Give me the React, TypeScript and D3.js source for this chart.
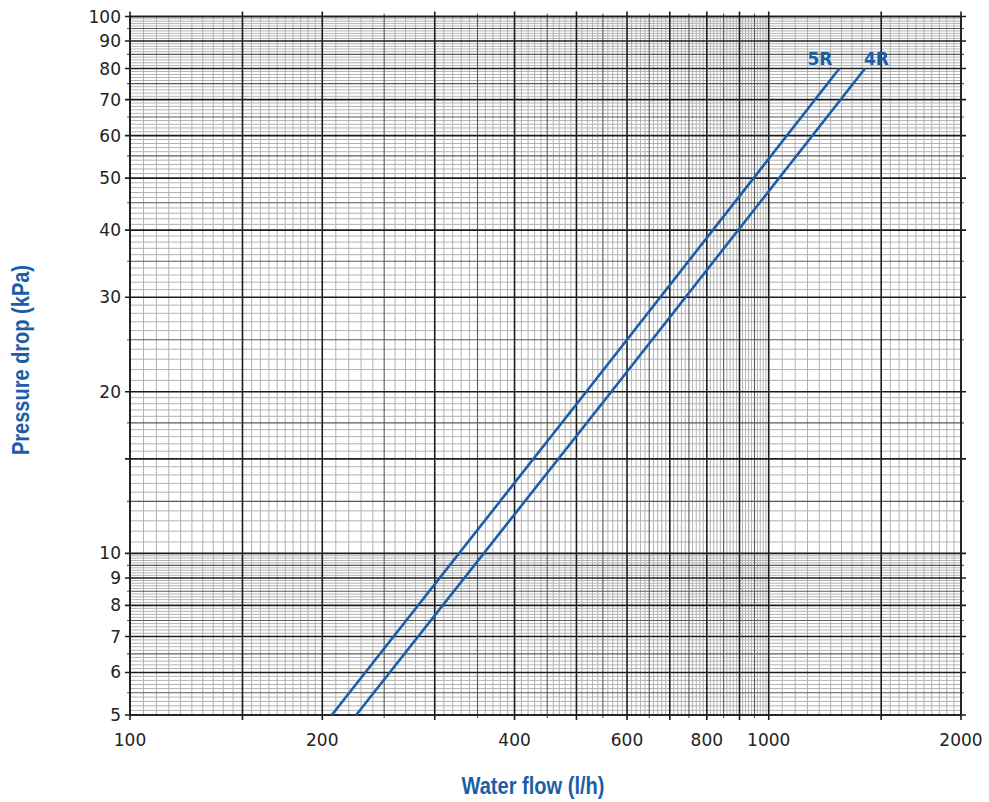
import { useMemo } from "react";
import * as d3 from "d3";

// Pressure drop vs water flow, log-log paper, two coil rows
const series5R = [
    { flow: 207, drop: 5 },
    { flow: 518, drop: 20 },
    { flow: 1290, drop: 80 },
];
const series4R = [
    { flow: 226, drop: 5 },
    { flow: 567, drop: 20 },
    { flow: 1415, drop: 80 },
];
const seriesNames = ["5R", "4R"];

const xTickLabels = [100, 200, 400, 600, 800, 1000, 2000];
const yTickLabels = [5, 6, 7, 8, 9, 10, 20, 30, 40, 50, 60, 70, 80, 90, 100];

const W = 989;
const H = 802;
const BLUE = "#1b5ea8";

/** log paper lines: {v, kind} */
function xGridLines() {
    const vals = [
        ...d3.range(100, 200, 5),
        ...d3.range(200, 1000, 10),
        ...d3.range(1000, 2001, 50),
    ];
    const majors = new Set([100, 150, 200, 300, 400, 500, 600, 700, 800, 900, 1000, 1500, 2000]);
    return vals.map((v) => ({
        v,
        kind: majors.has(v) ? "major" : v > 200 && v < 1000 && v % 50 === 0 ? "mid" : "minor",
    }));
}

function yGridLines() {
    // work in tenths so the set lookups stay exact
    const tenths = [
        ...d3.range(50, 100, 1),
        ...d3.range(100, 200, 5),
        ...d3.range(200, 500, 10),
        ...d3.range(500, 1001, 10),
    ];
    const majors = new Set([50, 60, 70, 80, 90, 100, 150, 200, 300, 400, 500, 600, 700, 800, 900, 1000]);
    const mids = new Set([55, 65, 75, 85, 95, 125, 175, 250, 350, 450, 550, 650, 750, 850, 950]);
    return tenths.map((t) => ({
        v: t / 10,
        kind: majors.has(t) ? "major" : mids.has(t) ? "mid" : "minor",
    }));
}

const lineStyle = {
    minor: { stroke: "#b2b2b2", width: 1, ext: 0 },
    mid: { stroke: "#5a5a5a", width: 1.1, ext: 3 },
    major: { stroke: "#1c1c1c", width: 1.6, ext: 5 },
};

// where each curve label sits relative to the curve's last point
const labelOffset = [
    { dx: -7, anchor: "end" },
    { dx: -1, anchor: "start" },
];

export default function App() {
    const margin = { left: 130, right: W - 961, top: 16.5, bottom: H - 715 };

    const x = useMemo(
        () => d3.scaleLog().domain([100, 2000]).range([margin.left, W - margin.right]),
        []
    );
    const y = useMemo(
        () => d3.scaleLog().domain([5, 100]).range([H - margin.bottom, margin.top]),
        []
    );

    const xs = useMemo(() => xGridLines(), []);
    const ys = useMemo(() => yGridLines(), []);

    const line = d3
        .line<{ flow: number; drop: number }>()
        .x((d) => x(d.flow))
        .y((d) => y(d.drop));

    const x0 = x.range()[0];
    const x1 = x.range()[1];
    const y0 = y.range()[0];
    const y1 = y.range()[1];

    const order = ["minor", "mid", "major"];
    const titleStyle = {
        fontFamily: "'Liberation Sans', Arial, sans-serif",
        fontSize: 23,
        fontWeight: 700,
    };

    return (
        <svg
            width={W}
            height={H}
            style={{ position: "absolute", left: 0, top: 0, background: "#fff" }}
        >
            {order.map((kind) => (
                <g key={kind}>
                    {xs
                        .filter((d) => d.kind === kind)
                        .map((d) => {
                            const s = lineStyle[kind];
                            return (
                                <line
                                    key={`x${d.v}`}
                                    x1={x(d.v)}
                                    x2={x(d.v)}
                                    y1={y1 - s.ext}
                                    y2={y0 + s.ext}
                                    stroke={s.stroke}
                                    strokeWidth={s.width}
                                />
                            );
                        })}
                    {ys
                        .filter((d) => d.kind === kind)
                        .map((d) => {
                            const s = lineStyle[kind];
                            return (
                                <line
                                    key={`y${d.v}`}
                                    x1={x0 - s.ext}
                                    x2={x1 + s.ext}
                                    y1={y(d.v)}
                                    y2={y(d.v)}
                                    stroke={s.stroke}
                                    strokeWidth={s.width}
                                />
                            );
                        })}
                </g>
            ))}

            <rect
                x={x0}
                y={y1}
                width={x1 - x0}
                height={y0 - y1}
                fill="none"
                stroke="#1c1c1c"
                strokeWidth={1.6}
            />

            {/* tick labels */}
            <g
                style={{ fontFamily: "'DejaVu Sans', sans-serif", fontSize: 17 }}
                fill="#222"
            >
                {yTickLabels.map((v) => (
                    <text
                        key={`yl${v}`}
                        x={x0 - 9}
                        y={y(v)}
                        textAnchor="end"
                        dominantBaseline="central"
                    >
                        {v}
                    </text>
                ))}
                {xTickLabels.map((v) => (
                    <text key={`xl${v}`} x={x(v)} y={y0 + 31} textAnchor="middle">
                        {v}
                    </text>
                ))}
            </g>

            {/* curves */}
            {[series5R, series4R].map((s, i) => {
                const last = s[s.length - 1];
                return (
                    <g key={seriesNames[i]}>
                        <path d={line(s) ?? ""} fill="none" stroke={BLUE} strokeWidth={2.6} />
                        <text
                            x={x(last.flow) + labelOffset[i].dx}
                            y={y(last.drop) - 4}
                            textAnchor={labelOffset[i].anchor}
                            fill={BLUE}
                            style={{
                                fontFamily: "'DejaVu Sans', sans-serif",
                                fontSize: 17,
                                fontWeight: 700,
                            }}
                        >
                            {seriesNames[i]}
                        </text>
                    </g>
                );
            })}

            {/* axis titles */}
            <text
                x={533}
                y={794}
                textAnchor="middle"
                fill={BLUE}
                textLength={143}
                lengthAdjust="spacingAndGlyphs"
                style={titleStyle}
            >
                Water flow (l/h)
            </text>
            <text
                transform={`translate(29, 360) rotate(-90)`}
                textAnchor="middle"
                fill={BLUE}
                textLength={190}
                lengthAdjust="spacingAndGlyphs"
                style={titleStyle}
            >
                Pressure drop (kPa)
            </text>
        </svg>
    );
}
